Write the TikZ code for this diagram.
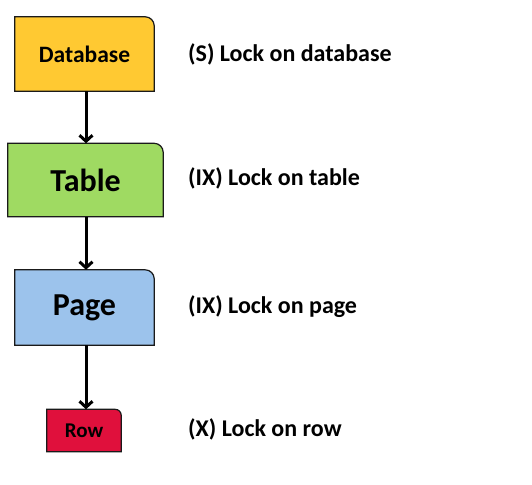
\documentclass[tikz,border=0pt]{standalone}
\usepackage{fontspec}
\setmainfont{Carlito}
\usetikzlibrary{arrows.meta,backgrounds}
\definecolor{dbcol}{HTML}{FFC932}
\definecolor{tbcol}{HTML}{9FDA62}
\definecolor{pgcol}{HTML}{9CC3EC}
\definecolor{rwcol}{HTML}{E0103C}
\definecolor{edgecol}{HTML}{1A1A1A}
\tikzset{
  boxnode/.style={inner sep=0pt, font=\bfseries},
  outline/.style={draw=edgecol, line width=1.2pt},
  lbl/.style={anchor=base west, inner sep=0pt, font=\fontsize{24}{28}\selectfont\bfseries},
  conn/.style={line width=3pt, -{Straight Barb[length=6pt,width=13pt]}},
}
\newcommand{\oneroundbox}[3]{% node, colour, radius
  \begin{pgfonlayer}{background}
  \draw[outline, fill=#2] (#1.south west) -- (#1.north west) -- ([xshift=-#3]#1.north east)
     arc[start angle=90, end angle=0, radius=#3] -- (#1.south east) -- cycle;
  \end{pgfonlayer}}
\begin{document}
\begin{tikzpicture}[x=1pt,y=-1pt]
\useasboundingbox (0,0) rectangle (532,484);
\node[boxnode, minimum width=139pt, minimum height=74pt, font=\fontsize{23.5}{27}\selectfont\bfseries] (db) at (84.5,54) {Database};
\node[boxnode, minimum width=155pt, minimum height=73pt, font=\fontsize{32}{36}\selectfont\bfseries] (tb) at (85.5,180) {Table};
\node[boxnode, minimum width=139pt, minimum height=75pt, font=\fontsize{32}{36}\selectfont\bfseries] (pg) at (84.5,307.5) {Page};
\node[boxnode, minimum width=74pt, minimum height=42pt, font=\fontsize{21}{24}\selectfont\bfseries] (rw) at (84,430.5) {Row};
\oneroundbox{db}{dbcol}{9pt}
\oneroundbox{tb}{tbcol}{9pt}
\oneroundbox{pg}{pgcol}{9pt}
\oneroundbox{rw}{rwcol}{6pt}
\coordinate (a1) at (86,0);
\draw[conn] (db.south -| a1) -- (tb.north -| a1);
\draw[conn] (tb.south -| a1) -- (pg.north -| a1);
\draw[conn] (pg.south -| a1) -- (rw.north -| a1);
\node[lbl] (l1) at (188,62) {(S) Lock on database};
\node[lbl] (l2) at (188,185) {(IX) Lock on table};
\node[lbl] (l3) at (188,313) {(IX) Lock on page};
\node[lbl] (l4) at (188,436) {(X) Lock on row};
\end{tikzpicture}
\end{document}
